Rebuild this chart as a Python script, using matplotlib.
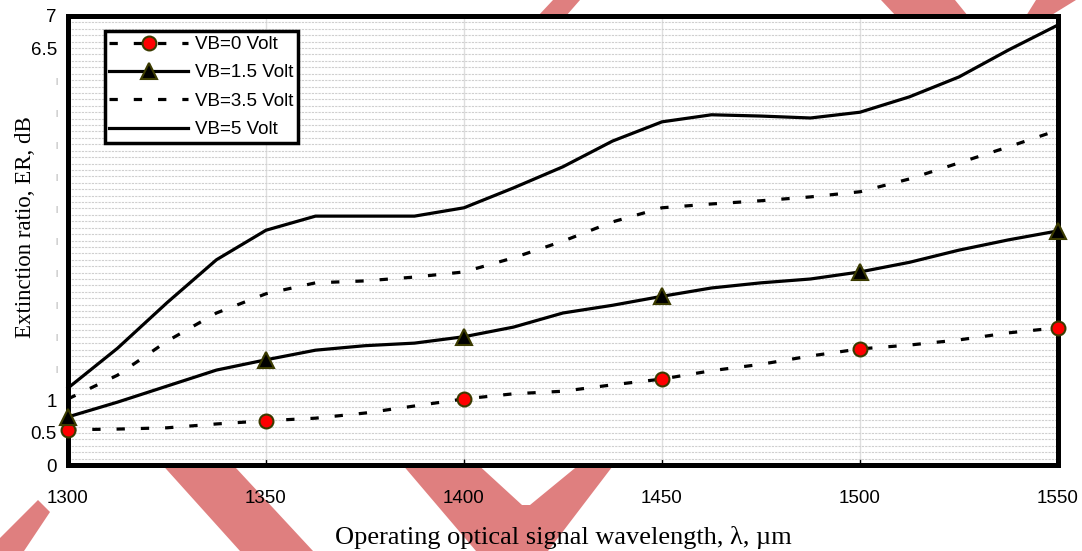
import matplotlib
matplotlib.use('Agg')
import matplotlib.pyplot as plt
from matplotlib.patches import Polygon
from matplotlib.ticker import MultipleLocator

# wavelength grid (nm)
wavelength = [1300, 1312.5, 1325, 1337.5, 1350, 1362.5, 1375, 1387.5, 1400, 1412.5, 1425,
              1437.5, 1450, 1462.5, 1475, 1487.5, 1500, 1512.5, 1525, 1537.5, 1550]

# extinction ratio (dB) per bias voltage
er_vb0 = [0.55, 0.56, 0.58, 0.64, 0.69, 0.73, 0.81, 0.92, 1.03, 1.11, 1.15,
          1.25, 1.34, 1.47, 1.57, 1.70, 1.81, 1.87, 1.95, 2.06, 2.14]
er_vb15 = [0.75, 0.98, 1.23, 1.48, 1.64, 1.79, 1.86, 1.90, 2.00, 2.15, 2.37,
           2.49, 2.63, 2.76, 2.84, 2.90, 3.01, 3.16, 3.35, 3.51, 3.65]
er_vb35 = [1.03, 1.40, 1.93, 2.37, 2.67, 2.84, 2.87, 2.93, 3.01, 3.23, 3.49,
           3.79, 4.01, 4.07, 4.12, 4.18, 4.26, 4.46, 4.71, 4.96, 5.22]
er_vb5 = [1.20, 1.82, 2.53, 3.20, 3.66, 3.88, 3.88, 3.88, 4.01, 4.32, 4.65,
          5.05, 5.35, 5.46, 5.44, 5.41, 5.50, 5.74, 6.05, 6.47, 6.86]

labels = ['VB=0 Volt', 'VB=1.5 Volt', 'VB=3.5 Volt', 'VB=5 Volt']

x_ticks = [1300, 1350, 1400, 1450, 1500, 1550]
y_ticks = [0, 0.5, 1, 1.5, 2, 2.5, 3, 3.5, 4, 4.5, 5, 5.5, 6, 6.5, 7]
y_ticklabels = ['0', '0.5', '1', '|', '|', '|', '|', '|', '|', '|', '|', '|', '|', '6.5', '7']

W, H = 1082, 551
fig = plt.figure(figsize=(W / 100, H / 100), dpi=100)
ax = fig.add_axes([68 / W, 1 - 465 / H, 990 / W, 449 / H])


def px(pts):
    return [(x / W, 1 - y / H) for x, y in pts]


# red watermark stripes behind the axes
stripes = [
    [(140, 440), (210, 440), (313, 551), (240, 551)],
    [(38, 500), (50, 512), (24, 551), (0, 551), (0, 538)],
    [(390, 450), (462, 450), (522, 505), (530, 505), (597, 450), (625, 450), (548, 551), (476, 551)],
    [(553, 0), (580, 0), (566, 16), (538, 16)],
    [(881, 0), (955, 0), (968, 16), (896, 16)],
    [(1036, 0), (1076, 0), (1050, 16), (1026, 16)],
]
for s in stripes:
    fig.patches.append(Polygon(px(s), closed=True, transform=fig.transFigure,
                               facecolor='#df7f7f', edgecolor='none', zorder=-1))

lw = 2.3
dash = (2.6, 5.0)
l0, = ax.plot(wavelength, er_vb0, color='black', lw=lw, dashes=dash, marker='o', markevery=4,
              markersize=10, markerfacecolor='red', markeredgecolor='#3b3b00', markeredgewidth=1.5,
              label=labels[0], clip_on=False, zorder=4)
l1, = ax.plot(wavelength, er_vb15, color='black', lw=lw, marker='^', markevery=4,
              markersize=11, markerfacecolor='black', markeredgecolor='#3b3b00', markeredgewidth=1.5,
              label=labels[1], clip_on=False, zorder=4)
l2, = ax.plot(wavelength, er_vb35, color='black', lw=lw, dashes=dash, label=labels[2],
              clip_on=False, zorder=4)
l3, = ax.plot(wavelength, er_vb5, color='black', lw=lw, label=labels[3], clip_on=False, zorder=4)

ax.set_xlim(1300, 1550)
ax.set_ylim(0, 7)
ax.set_xticks(x_ticks)
ax.set_yticks(y_ticks)
ax.set_yticklabels(y_ticklabels)
ax.yaxis.set_minor_locator(MultipleLocator(0.1))

tick_font = ['Liberation Sans Narrow', 'Liberation Sans']
for t in ax.get_xticklabels() + ax.get_yticklabels():
    t.set_family(tick_font)
    t.set_fontsize(13.5)
for t in ax.get_yticklabels():
    if t.get_text() == '|':
        t.set_fontsize(6)
        t.set_color('#888888')

ax.tick_params(axis='x', direction='in', length=4, width=1, pad=18)
ax.tick_params(axis='y', which='major', direction='in', length=0, pad=8)
ax.tick_params(axis='y', which='minor', length=0)

ax.grid(axis='y', which='both', color='#cfcfcf', lw=0.8, ls=(0, (2, 1)))
ax.grid(axis='x', which='major', color='#dedede', lw=1)
ax.set_axisbelow(True)

for sp in ax.spines.values():
    sp.set_linewidth(3.6)
    sp.set_color('black')

ax.set_xlabel('Operating optical signal wavelength, \u03bb, \u00b5m', family='Liberation Serif',
              fontsize=19, labelpad=14)
ax.set_ylabel('Extinction ratio, ER, dB', family='Liberation Serif', fontsize=16.5)
ax.yaxis.set_label_coords(-0.032, 0.53)

leg = ax.legend(handles=[l0, l1, l2, l3], loc='upper left', bbox_to_anchor=(0.037, 0.966),
                frameon=True, fancybox=False, edgecolor='black', framealpha=1,
                prop={'family': tick_font, 'size': 13.5}, handlelength=4.2,
                handletextpad=0.35, labelspacing=0.6, borderpad=0.25, borderaxespad=0)
leg.get_frame().set_linewidth(2.5)
leg.set_zorder(6)

fig.savefig('out.png', dpi=100)
